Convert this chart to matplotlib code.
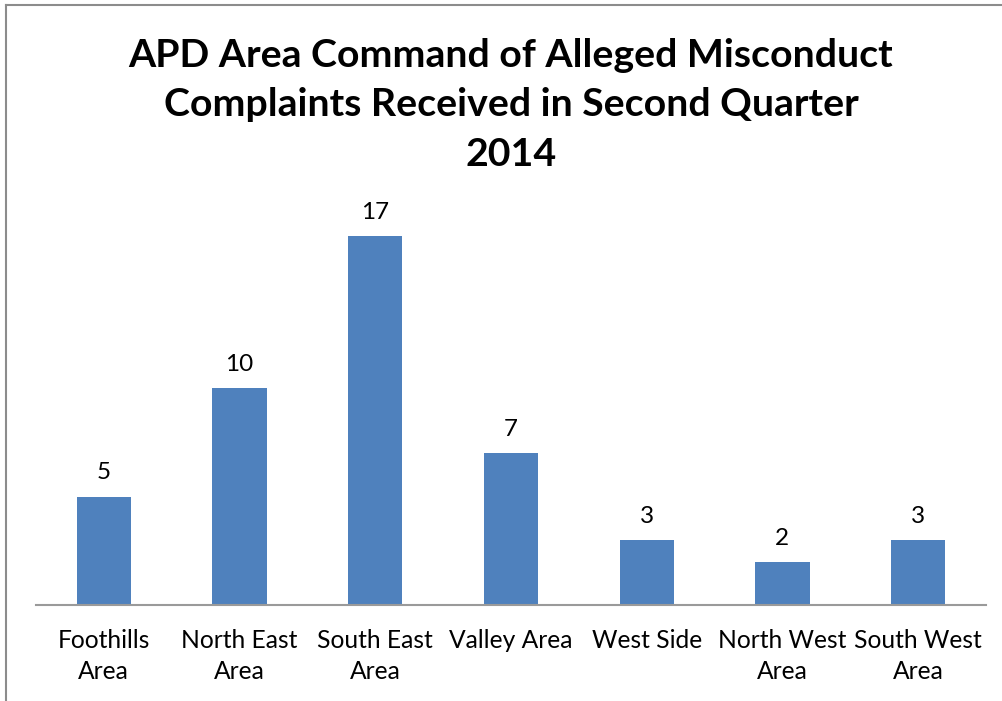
import matplotlib.pyplot as plt
from matplotlib.lines import Line2D

# data
areas = ['Foothills\nArea', 'North East\nArea', 'South East\nArea', 'Valley Area',
         'West Side', 'North West\nArea', 'South West\nArea']
complaints = [5, 10, 17, 7, 3, 2, 3]
titulo = 'APD Area Command of Alleged Misconduct\nComplaints Received in Second Quarter\n2014'

W, H = 1003, 701
fig = plt.figure(figsize=(W / 100, H / 100), dpi=100)
plt.rcParams['font.family'] = ['Lato', 'DejaVu Sans']

# axes: baseline at y=605 px, x from 36 to 986 px, y max 20 at 171 px
ax = fig.add_axes([36 / W, 1 - 605 / H, 950 / W, (605 - 171) / H])
pos = range(len(areas))
bars = ax.bar(pos, complaints, width=0.4, color='#4F81BD')
ax.set_xlim(-0.5, len(areas) - 0.5)
ax.set_ylim(0, 20)
for b, v in zip(bars, complaints):
    ax.text(b.get_x() + b.get_width() / 2, v + 0.6, str(v),
            ha='center', va='bottom', fontsize=17.5)

for s in ['top', 'right', 'left']:
    ax.spines[s].set_visible(False)
ax.spines['bottom'].set_color('#9A9A9A')
ax.spines['bottom'].set_linewidth(1.5)
ax.set_yticks([])
ax.set_xticks(list(pos))
ax.set_xticklabels(areas, fontsize=17.7, linespacing=1.45)
ax.tick_params(axis='x', length=0, pad=17)

fig.text(511 / W, 1 - 105 / H, titulo, ha='center', va='center',
         fontsize=28.3, fontweight='bold', linespacing=1.5)

# chart border (top and left only visible)
fig.add_artist(Line2D([6 / W, 6 / W], [0, 1 - 5 / H], transform=fig.transFigure,
                      color='#8C8C8C', lw=1.5))
fig.add_artist(Line2D([6 / W, 1], [1 - 5 / H, 1 - 5 / H], transform=fig.transFigure,
                      color='#8C8C8C', lw=1.5))

fig.savefig('out.png', dpi=100)
